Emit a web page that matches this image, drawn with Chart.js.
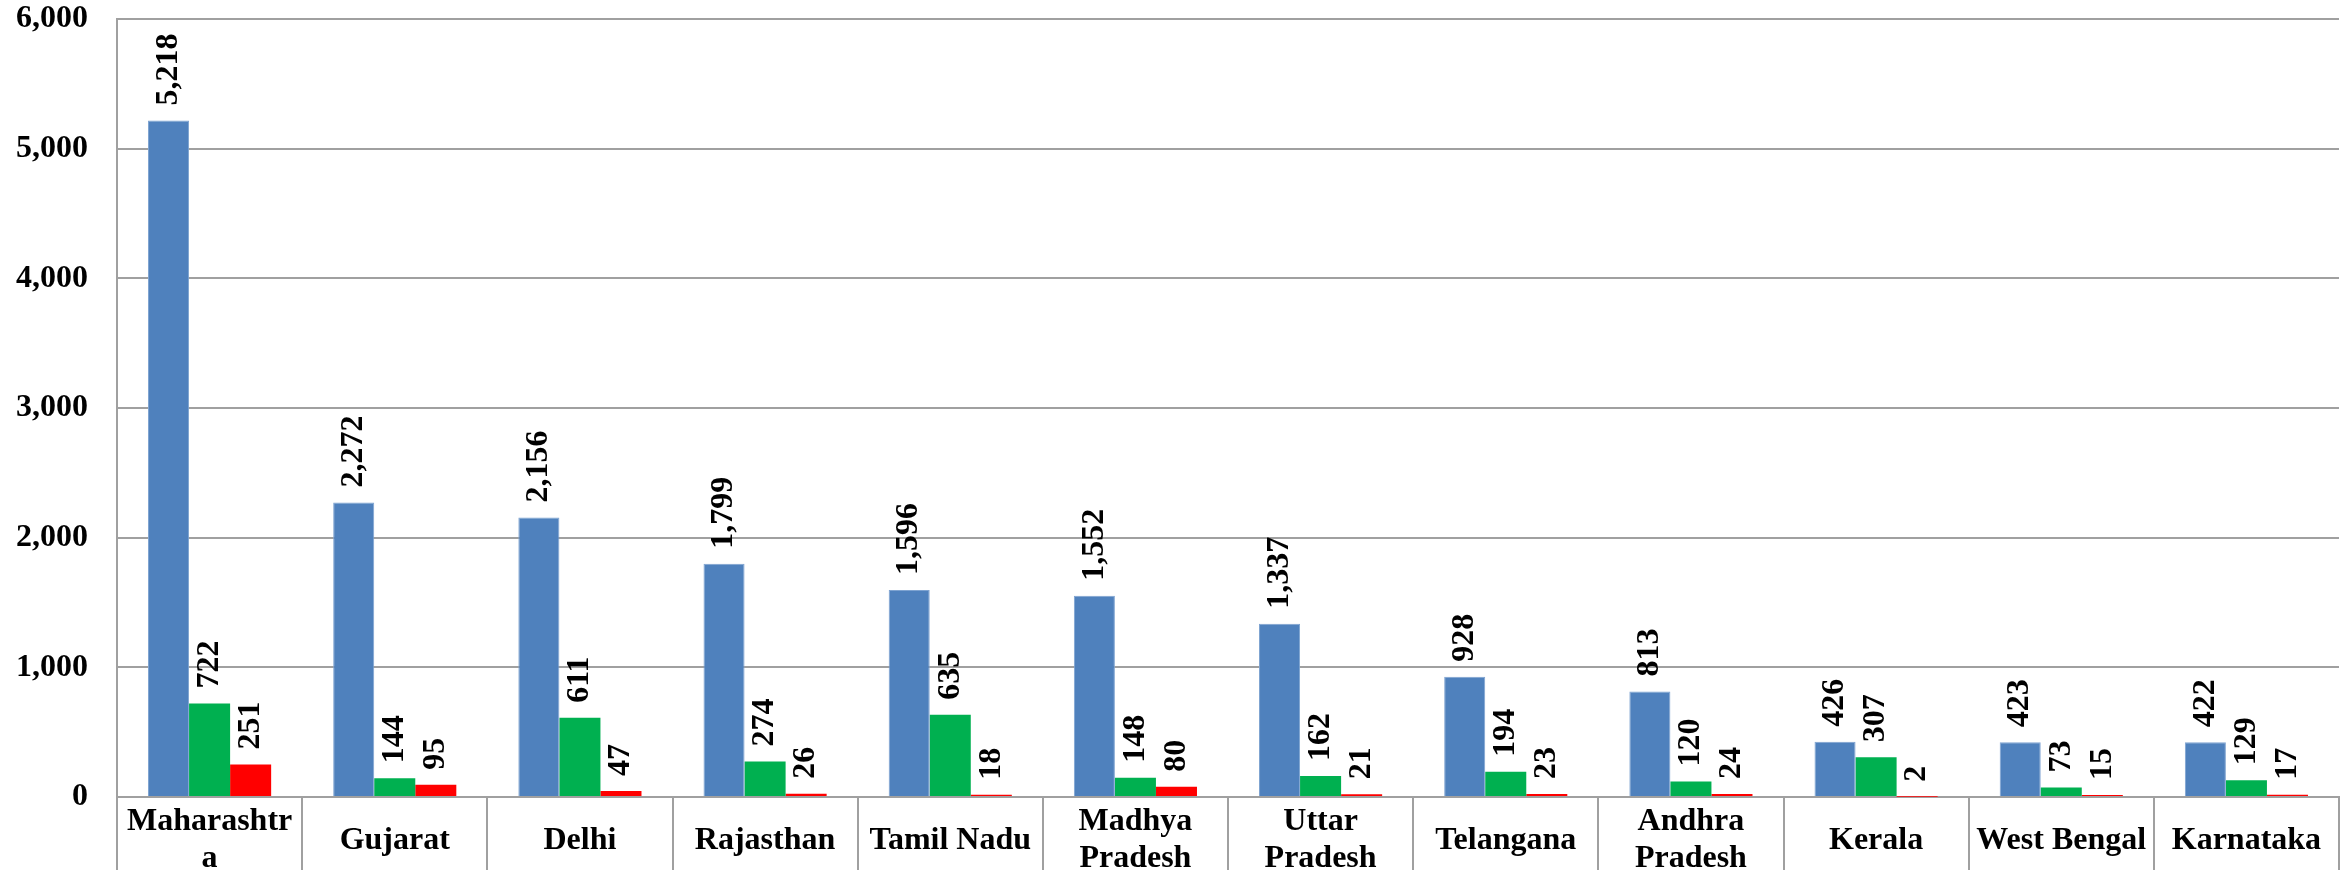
<!DOCTYPE html>
<html>
<head>
<meta charset="utf-8">
<script src="https://cdn.jsdelivr.net/npm/chart.js@4"></script>
<style>
html,body{margin:0;padding:0;background:#fff;}
#wrap{width:2351px;height:870px;position:relative;}
</style>
</head>
<body>
<div id="wrap"><canvas id="c"></canvas></div>
<script>
const categories = [
  ["Maharashtr","a"], "Gujarat", "Delhi", "Rajasthan", "Tamil Nadu",
  ["Madhya","Pradesh"], ["Uttar","Pradesh"], "Telangana", ["Andhra","Pradesh"],
  "Kerala", "West Bengal", "Karnataka"
];
const confirmed = [5218, 2272, 2156, 1799, 1596, 1552, 1337, 928, 813, 426, 423, 422];
const recovered = [722, 144, 611, 274, 635, 148, 162, 194, 120, 307, 73, 129];
const deaths = [251, 95, 47, 26, 18, 80, 21, 23, 24, 2, 15, 17];
const yTicks = [0, 1000, 2000, 3000, 4000, 5000, 6000];

const FONT = "'Liberation Serif', 'Times New Roman', serif";
const fmt = v => Number(v).toLocaleString('en-US');

const labelPlugin = {
  id: 'barLabels',
  afterDatasetsDraw(chart) {
    const ctx = chart.ctx;
    ctx.save();
    ctx.font = "bold 32px " + FONT;
    ctx.fillStyle = '#000';
    ctx.textAlign = 'left';
    ctx.textBaseline = 'middle';
    chart.data.datasets.forEach((ds, i) => {
      const meta = chart.getDatasetMeta(i);
      meta.data.forEach((el, j) => {
        ctx.save();
        ctx.translate(el.x, el.y - 15);
        ctx.rotate(-Math.PI / 2);
        ctx.fillText(fmt(ds.data[j]), 0, 0);
        ctx.restore();
      });
    });
    ctx.restore();
  }
};

new Chart(document.getElementById('c'), {
  type: 'bar',
  data: {
    labels: categories,
    datasets: [
      { label: 'Confirmed', data: confirmed, backgroundColor: '#4F81BD', borderColor: '#7EA3D1', borderWidth: {top:1,left:1,right:1,bottom:0} },
      { label: 'Recovered', data: recovered, backgroundColor: '#00B050' },
      { label: 'Deaths', data: deaths, backgroundColor: '#FF0000' }
    ]
  },
  options: {
    responsive: true,
    maintainAspectRatio: false,
    animation: false,
    devicePixelRatio: 1,
    layout: { padding: { top: 19, right: 12, left: 0, bottom: 0 } },
    plugins: { legend: { display: false }, tooltip: { enabled: false } },
    datasets: { bar: { categoryPercentage: 0.665, barPercentage: 1.0 } },
    scales: {
      x: {
        grid: { display: true, drawOnChartArea: false, drawTicks: true, tickLength: 73, offset: true, color: '#A0A0A0', lineWidth: 2 },
        border: { display: true, color: '#A0A0A0', width: 2 },
        ticks: {
          font: { family: FONT, size: 32, weight: 'bold', lineHeight: 1.15 },
          color: '#000', maxRotation: 0, minRotation: 0, autoSkip: false,
          padding: -48, crossAlign: 'center'
        },
        afterFit: s => { s.height = 73; }
      },
      y: {
        min: 0, max: 6000,
        afterBuildTicks: s => { s.ticks = yTicks.map(v => ({ value: v })); },
        grid: { color: '#A0A0A0', lineWidth: 2, drawTicks: true, tickLength: 29, tickColor: 'rgba(0,0,0,0)' },
        border: { display: true, color: '#A0A0A0', width: 2 },
        ticks: {
          font: { family: FONT, size: 32, weight: 'bold' },
          color: '#000', padding: 0,
          callback: v => fmt(v)
        },
        afterFit: s => { s.width = 117; }
      }
    }
  },
  plugins: [labelPlugin]
});
</script>
</body>
</html>
